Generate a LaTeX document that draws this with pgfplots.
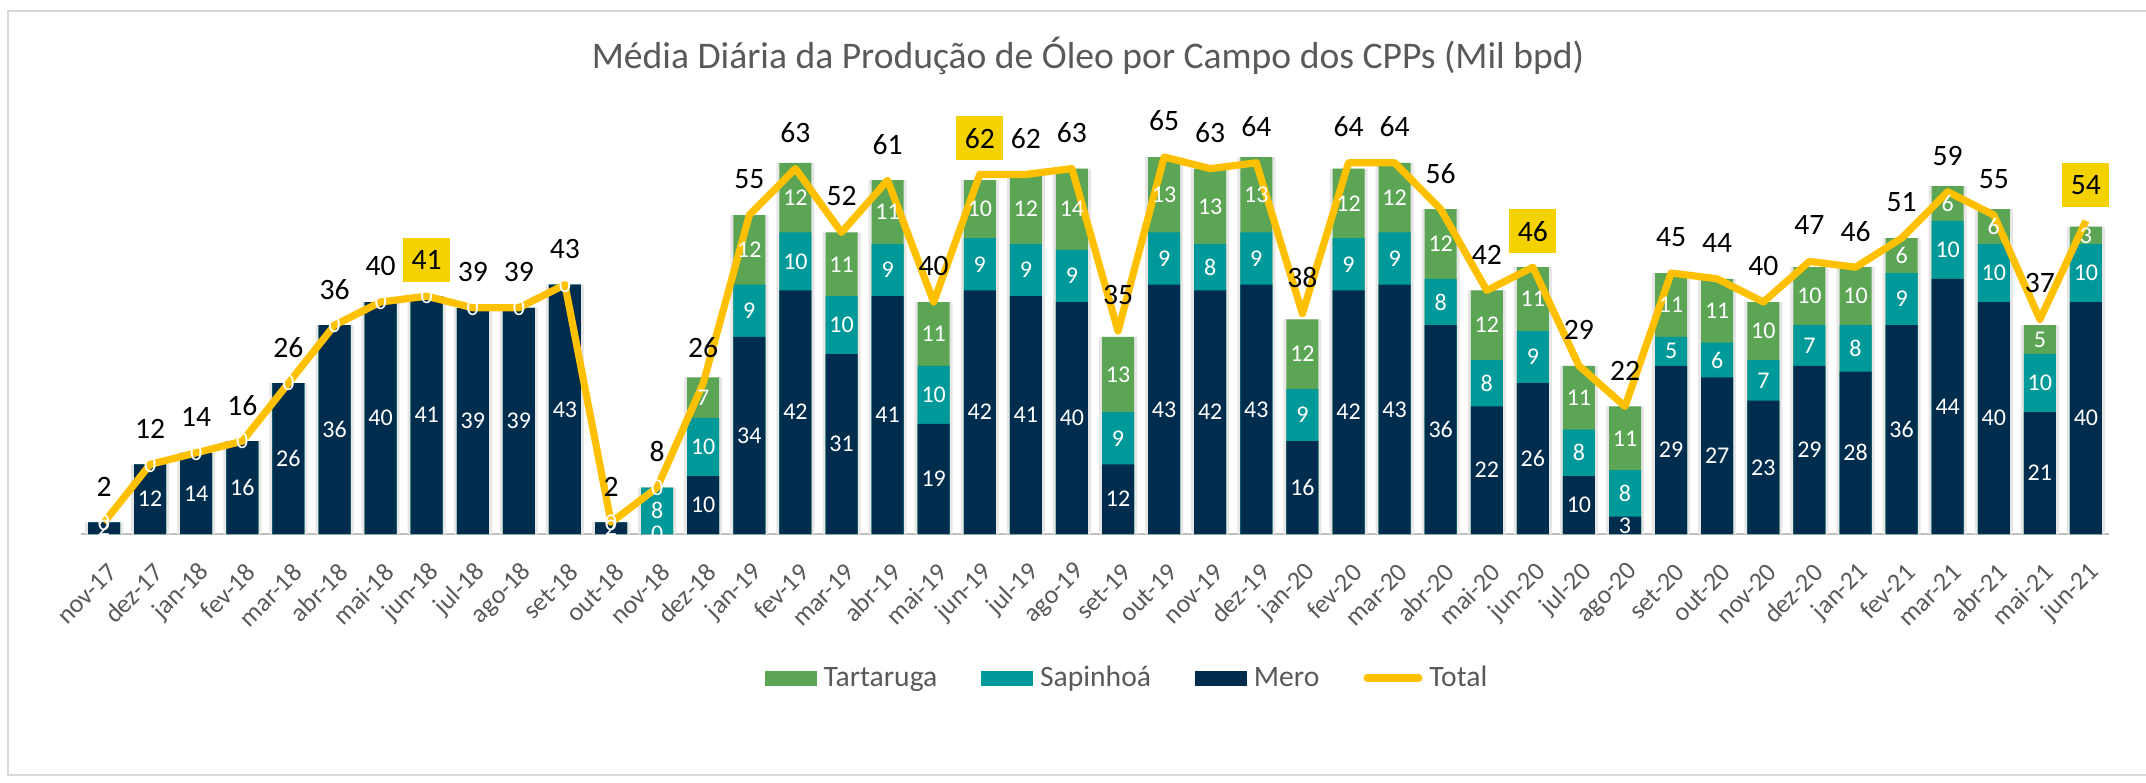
\documentclass[border=0pt]{standalone}
\usepackage{pgfplots}
\pgfplotsset{compat=1.18}
\usepackage{pgfplotstable}
\usepackage{fontspec}
\setmainfont{Carlito}
\definecolor{mero}{RGB}{0,45,78}
\definecolor{sap}{RGB}{0,153,153}
\definecolor{tart}{RGB}{91,165,85}
\definecolor{tot}{RGB}{255,192,0}
\definecolor{hl}{RGB}{243,210,0}
\definecolor{txt}{RGB}{89,89,89}
\definecolor{framegray}{RGB}{217,217,217}
\definecolor{axisgray}{RGB}{191,191,191}
\definecolor{shadowgray}{RGB}{230,230,230}

\pgfplotstableread{
x M S T Tot lab
0 2 0 0 2 nov-17
1 12 0 0 12 dez-17
2 14 0 0 14 jan-18
3 16 0 0 16 fev-18
4 26 0 0 26 mar-18
5 36 0 0 36 abr-18
6 40 0 0 40 mai-18
7 41 0 0 41 jun-18
8 39 0 0 39 jul-18
9 39 0 0 39 ago-18
10 43 0 0 43 set-18
11 2 0 0 2 out-18
12 0 8 0 8 nov-18
13 10 10 7 26 dez-18
14 34 9 12 55 jan-19
15 42 10 12 63 fev-19
16 31 10 11 52 mar-19
17 41 9 11 61 abr-19
18 19 10 11 40 mai-19
19 42 9 10 62 jun-19
20 41 9 12 62 jul-19
21 40 9 14 63 ago-19
22 12 9 13 35 set-19
23 43 9 13 65 out-19
24 42 8 13 63 nov-19
25 43 9 13 64 dez-19
26 16 9 12 38 jan-20
27 42 9 12 64 fev-20
28 43 9 12 64 mar-20
29 36 8 12 56 abr-20
30 22 8 12 42 mai-20
31 26 9 11 46 jun-20
32 10 8 11 29 jul-20
33 3 8 11 22 ago-20
34 29 5 11 45 set-20
35 27 6 11 44 out-20
36 23 7 10 40 nov-20
37 29 7 10 47 dez-20
38 28 8 10 46 jan-21
39 36 9 6 51 fev-21
40 44 10 6 59 mar-21
41 40 10 6 55 abr-21
42 21 10 5 37 mai-21
43 40 10 3 54 jun-21
}\data

\pgfplotstableread{
x Tot
7 41
19 62
31 46
43 54
}\hldata

\begin{document}
\begin{tikzpicture}[x=1pt,y=1pt]
\useasboundingbox (-40.5,-124) rectangle (1032.5,267);
\draw[framegray, line width=1.2pt] (1040,-120.5) -- (-36.5,-120.5) -- (-36.5,261.5) -- (1040,261.5);
\node[anchor=base, font=\fontsize{18.8}{22}\selectfont, text=txt, inner sep=0pt] at (503.5,232.8) {Média Diária da Produção de Óleo por Campo dos CPPs (Mil bpd)};
\begin{axis}[
  at={(0pt,0pt)}, anchor=south west,
  scale only axis, width=1014pt, height=203pt,
  xmin=-0.5, xmax=43.5, ymin=0, ymax=70,
  axis x line*=bottom, axis y line=none,
  x axis line style={axisgray, line width=1.2pt, -},
  xtick={0,...,43}, xticklabels from table={\data}{lab},
  major tick length=0pt,
  xticklabel style={font=\fontsize{13}{15}\selectfont, text=txt, inner sep=0pt, xshift=4.5pt, yshift=-17pt, rotate=45, anchor=east},
  clip=false,
  /pgf/number format/assume math mode=true,
  legend columns=4,
  legend style={at={(0.5153,-0.3547)}, anchor=center, draw=none, fill=none, inner sep=0pt,
    font=\fontsize{14.8}{17}\selectfont, text=txt,
    nodes={inner sep=0pt},
    /tikz/every odd column/.append style={column sep=3.5pt},
    /tikz/every even column/.append style={column sep=22pt}},
]
\addlegendimage{legend image code/.code={\fill[tart] (0pt,-3.5pt) rectangle (25.5pt,3.5pt);}}
\addlegendentry{Tartaruga}
\addlegendimage{legend image code/.code={\fill[sap] (0pt,-3.5pt) rectangle (25.5pt,3.5pt);}}
\addlegendentry{Sapinhoá}
\addlegendimage{legend image code/.code={\fill[mero] (0pt,-3.5pt) rectangle (25.5pt,3.5pt);}}
\addlegendentry{Mero}
\addlegendimage{legend image code/.code={\draw[tot, line width=4pt, line cap=round] (2pt,0pt) -- (27.5pt,0pt);}}
\addlegendentry{Total}

% shadow
\addplot[ybar, bar width=19pt, bar shift=0pt, fill=shadowgray, draw=none, forget plot]
  table[x=x, y expr=\thisrow{M}+\thisrow{S}+\thisrow{T}] {\data};
% stacked bars (overlaid cumulative)
\addplot[ybar, bar width=16pt, bar shift=0pt, fill=tart, draw=none, forget plot]
  table[x=x, y expr=\thisrow{M}+\thisrow{S}+\thisrow{T}] {\data};
\addplot[ybar, bar width=16pt, bar shift=0pt, fill=sap, draw=none, forget plot]
  table[x=x, y expr=\thisrow{M}+\thisrow{S}] {\data};
\addplot[ybar, bar width=16pt, bar shift=0pt, fill=mero, draw=none, forget plot]
  table[x=x, y=M] {\data};

% total line
\addplot[tot, line width=3.6pt, line join=round, mark=none, forget plot]
  table[x=x, y=Tot] {\data};

% white segment labels
\addplot[draw=none, mark=none, forget plot, point meta=explicit, nodes near coords, nodes near coords align=center,
  every node near coord/.append style={text=white, font=\fontsize{12}{14}\selectfont, inner sep=0pt}]
  table[x=x, y expr=\thisrow{M}/2, meta=M] {\data};
\addplot[draw=none, mark=none, forget plot, point meta=explicit, nodes near coords, nodes near coords align=center,
  x filter/.expression={x<12 ? nan : x},
  every node near coord/.append style={text=white, font=\fontsize{12}{14}\selectfont, inner sep=0pt}]
  table[x=x, y expr=\thisrow{M}+\thisrow{S}/2, meta=S] {\data};
\addplot[draw=none, mark=none, forget plot, point meta=explicit, nodes near coords, nodes near coords align=center,
  every node near coord/.append style={text=white, font=\fontsize{12}{14}\selectfont, inner sep=0pt}]
  table[x=x, y expr=\thisrow{M}+\thisrow{S}+\thisrow{T}/2, meta=T] {\data};

% total labels
\addplot[draw=none, mark=none, forget plot, point meta=explicit, nodes near coords, nodes near coords align=center,
  x filter/.expression={(x==7 || x==19 || x==31 || x==43) ? nan : x},
  every node near coord/.append style={text=black, font=\fontsize{14.8}{17}\selectfont, inner sep=0pt, yshift=18pt}]
  table[x=x, y=Tot, meta=Tot] {\data};
\addplot[draw=none, mark=none, forget plot, point meta=explicit, nodes near coords, nodes near coords align=center,
  every node near coord/.append style={text=black, fill=hl, font=\fontsize{14.8}{17}\selectfont, inner sep=0pt,
    minimum width=23.5pt, minimum height=22pt, yshift=18pt}]
  table[x=x, y=Tot, meta=Tot] {\hldata};
\end{axis}
\end{tikzpicture}
\end{document}
